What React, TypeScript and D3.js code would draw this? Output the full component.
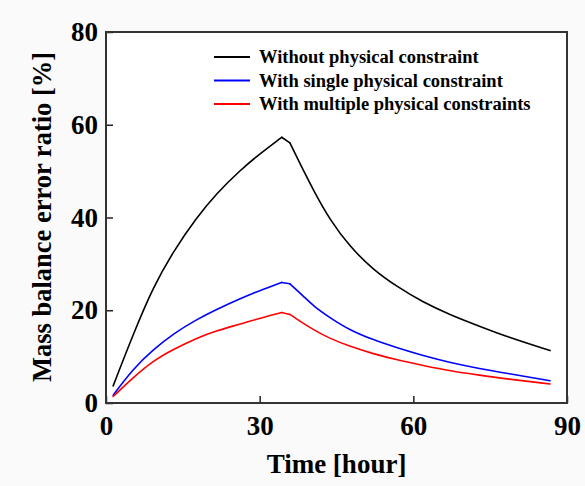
import { useEffect, useRef } from 'react'
import { select, scaleLinear, axisBottom, axisLeft, line, curveBasis } from 'd3'

// time points [hour]
const hours = [1.4, 5.3, 9.2, 13.2, 17.7, 21.6, 26.2, 30.1, 34.3, 35.9, 38.5, 40.5, 43.7, 47.6, 52.2, 56.8, 61.9, 67.2, 73.0, 78.2, 86.7]

const withoutConstraint = [3.7, 14.8, 25.0, 32.8, 40.0, 45.2, 50.2, 53.8, 57.3, 56.1, 50.2, 45.9, 39.5, 33.7, 28.7, 25.1, 21.7, 19.0, 16.5, 14.3, 11.3]
const singleConstraint = [1.7, 7.4, 11.5, 15.0, 18.0, 20.2, 22.5, 24.3, 26.0, 25.7, 23.1, 20.9, 18.4, 15.7, 13.6, 11.9, 10.2, 8.7, 7.4, 6.4, 4.8]
const multipleConstraints = [1.4, 5.5, 9.1, 11.6, 14.0, 15.6, 17.0, 18.3, 19.5, 19.1, 17.2, 15.8, 13.9, 12.2, 10.6, 9.3, 8.1, 6.9, 6.0, 5.2, 4.1]

const seriesNames = ['Without physical constraint', 'With single physical constraint', 'With multiple physical constraints']
const seriesColors = ['#000000', '#0000ff', '#ff0000']

const xTicks = [0, 30, 60, 90]
const yTicks = [0, 20, 40, 60, 80]

// the curves bend sharply at the end of loading (peak) and just after it
const breaks = [0, 8, 9, hours.length - 1]

function App() {
  const svg_ref = useRef<SVGSVGElement>(null)
  const width = 585,
        height = 486
  const plot = { left: 106, top: 32, right: 567, bottom: 403 }
  const font = '"Liberation Serif", "Times New Roman", serif'

  useEffect(() => {
    const svg = select(svg_ref.current)
    svg.selectAll('*').remove()

    const x = scaleLinear([0, 90], [plot.left, plot.right]),
          y = scaleLinear([0, 80], [plot.bottom, plot.top])

    svg.append('rect')
      .attr('width', width).attr('height', height)
      .attr('fill', '#fafafa')

    svg.append('rect')
      .attr('x', plot.left).attr('y', plot.top)
      .attr('width', plot.right - plot.left)
      .attr('height', plot.bottom - plot.top)
      .attr('fill', '#ffffff')

    // x axis, ticks inside
    const gx = svg.append('g')
      .attr('transform', `translate(0, ${plot.bottom})`)
      .call(axisBottom(x).tickValues(xTicks).tickSizeInner(-7).tickSizeOuter(0).tickPadding(13))
    gx.select('.domain').remove()
    gx.selectAll('line').attr('stroke', '#222').attr('stroke-width', 1.5)
    gx.selectAll('text')
      .attr('font-family', font).attr('font-weight', 'bold').attr('font-size', 27)
      .attr('fill', '#000')

    // y axis, ticks inside
    const gy = svg.append('g')
      .attr('transform', `translate(${plot.left}, 0)`)
      .call(axisLeft(y).tickValues(yTicks).tickSizeInner(-7).tickSizeOuter(0).tickPadding(8))
    gy.select('.domain').remove()
    gy.selectAll('line').attr('stroke', '#222').attr('stroke-width', 1.5)
    gy.selectAll('text')
      .attr('font-family', font).attr('font-weight', 'bold').attr('font-size', 27)
      .attr('fill', '#000')

    const allSeries = [withoutConstraint, singleConstraint, multipleConstraints]
    const path = line<[number, number]>()
      .x(d => x(d[0]))
      .y(d => y(d[1]))
      .curve(curveBasis)

    allSeries.forEach((vals, i) => {
      const pts: [number, number][] = vals.map((v, j) => [hours[j], v])
      for (let b = 0; b < breaks.length - 1; b++) {
        svg.append('path')
          .datum(pts.slice(breaks[b], breaks[b + 1] + 1))
          .attr('fill', 'none')
          .attr('stroke', seriesColors[i])
          .attr('stroke-width', 1.6)
          .attr('stroke-linecap', 'round')
          .attr('d', path)
      }
    })

    // frame
    svg.append('rect')
      .attr('x', plot.left).attr('y', plot.top)
      .attr('width', plot.right - plot.left)
      .attr('height', plot.bottom - plot.top)
      .attr('fill', 'none')
      .attr('stroke', '#333')
      .attr('stroke-width', 2)

    // legend
    const legend = svg.append('g')
    seriesNames.forEach((name, i) => {
      const ly = 57 + i * 23.5
      legend.append('line')
        .attr('x1', 214).attr('x2', 250)
        .attr('y1', ly).attr('y2', ly)
        .attr('stroke', seriesColors[i]).attr('stroke-width', 2)
      legend.append('text')
        .attr('x', 259).attr('y', ly)
        .attr('dy', '0.35em')
        .attr('font-family', font).attr('font-weight', 'bold').attr('font-size', 18.5)
        .text(name)
    })

    // axis titles
    svg.append('text')
      .attr('x', (plot.left + plot.right) / 2).attr('y', 473)
      .attr('text-anchor', 'middle')
      .attr('font-family', font).attr('font-weight', 'bold').attr('font-size', 27)
      .text('Time [hour]')

    svg.append('text')
      .attr('transform', `translate(51, 217) rotate(-90)`)
      .attr('text-anchor', 'middle')
      .attr('font-family', font).attr('font-weight', 'bold').attr('font-size', 26.5)
      .text('Mass balance error ratio [%]')
  }, [])

  return (
    <svg ref={svg_ref} width={width} height={height}
      style={{ position: 'absolute', left: 0, top: 0 }}></svg>
  )
}

export default App
